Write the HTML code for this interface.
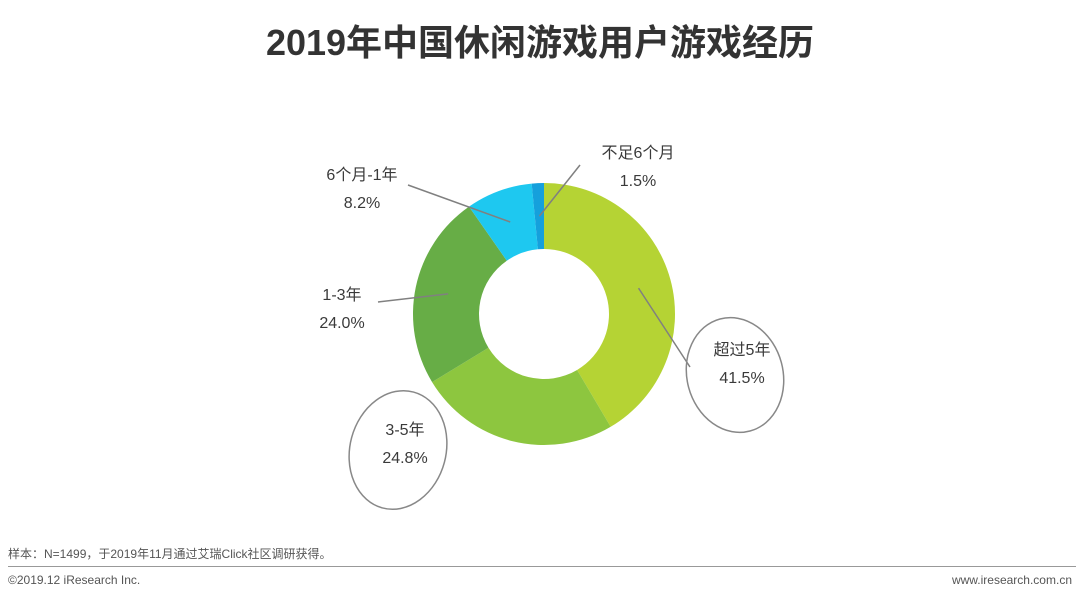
<!DOCTYPE html>
<html><head><meta charset="utf-8">
<style>
body{margin:0;width:1080px;height:602px;background:#fff;overflow:hidden;font-family:"Liberation Sans","Noto Sans CJK SC",sans-serif;position:relative}
.t{position:absolute;color:#444}
</style></head>
<body>
<div class="t" style="left:0;width:1080px;top:14px;text-align:center;font-size:36px;font-weight:bold;color:#333">2019年中国休闲游戏用户游戏经历</div>
<svg id="c" width="1080" height="602" style="position:absolute;left:0;top:0"></svg>
<div class="t" style="left:8px;top:545px;font-size:12px;color:#555">样本：N=1499，于2019年11月通过艾瑞Click社区调研获得。</div>
<div style="position:absolute;left:8px;top:566px;width:1068px;height:1px;background:#999"></div>
<div class="t" style="left:8px;top:573px;font-size:12px;color:#555">©2019.12 iResearch Inc.</div>
<div class="t" style="right:8px;top:573px;font-size:12px;color:#555">www.iresearch.com.cn</div>
<script>
const categories=["超过5年","3-5年","1-3年","6个月-1年","不足6个月"];
const values=[41.5,24.8,24.0,8.2,1.5];
const colors=["#b5d334","#8dc63f","#67ad46","#1ec8f0","#15a0dc"];
const labelPos=[[742,355],[405,435],[342,300],[362,180],[638,158]];
const lineEnd=[[690,367],[0,0],[378,302],[408,185],[580,165]];
const svg=document.getElementById('c');const NS='http://www.w3.org/2000/svg';
const cx=544,cy=314,R=131,r=65;
const total=values.reduce((a,b)=>a+b,0);
let a0=-Math.PI/2;
function pt(a,rad){return [cx+rad*Math.cos(a),cy+rad*Math.sin(a)];}
values.forEach((v,i)=>{
 const a1=a0+v/total*2*Math.PI;const lg=(a1-a0)>Math.PI?1:0;
 const p1=pt(a0,R),p2=pt(a1,R),p3=pt(a1,r),p4=pt(a0,r);
 const p=document.createElementNS(NS,'path');
 p.setAttribute('d',`M${p1}A${R},${R} 0 ${lg} 1 ${p2}L${p3}A${r},${r} 0 ${lg} 0 ${p4}Z`);
 p.setAttribute('fill',colors[i]);
 
 
 svg.appendChild(p);
 const am=(a0+a1)/2;const m=pt(am,(R+r)/2);
 if(i!==1){
  const l=document.createElementNS(NS,'line');
  l.setAttribute('x1',m[0]);l.setAttribute('y1',m[1]);l.setAttribute('x2',lineEnd[i][0]);l.setAttribute('y2',lineEnd[i][1]);
  l.setAttribute('stroke','#808080');l.setAttribute('stroke-width','1.5');
  
  
  svg.appendChild(l);
 }
 [categories[i],values[i].toFixed(1)+'%'].forEach((s,k)=>{
  const t=document.createElementNS(NS,'text');
  t.setAttribute('x',labelPos[i][0]);t.setAttribute('y',labelPos[i][1]+k*28);
  t.setAttribute('text-anchor','middle');t.setAttribute('font-size','16');t.setAttribute('fill','#3a3a3a');
  t.setAttribute('font-family','"Liberation Sans","Noto Sans CJK SC",sans-serif');
  t.textContent=s;
  
  
  svg.appendChild(t);
 });
 a0=a1;
});
[[735,375,48,58,-15],[398,450,48,60,15]].forEach(e=>{
 const el=document.createElementNS(NS,'ellipse');
 el.setAttribute('cx',e[0]);el.setAttribute('cy',e[1]);el.setAttribute('rx',e[2]);el.setAttribute('ry',e[3]);
 el.setAttribute('transform',`rotate(${e[4]} ${e[0]} ${e[1]})`);
 el.setAttribute('fill','none');el.setAttribute('stroke','#888');el.setAttribute('stroke-width','1.5');
 
 
 svg.appendChild(el);
});
</script>
</body></html>
